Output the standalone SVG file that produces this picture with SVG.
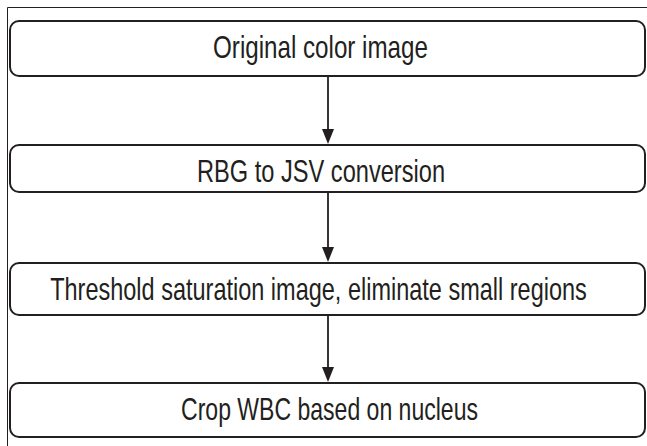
<svg xmlns="http://www.w3.org/2000/svg" width="647" height="446" viewBox="0 0 647 446">
<style>
.box{fill:#fff;stroke:#231f20;stroke-width:2}
.lbl{font-family:"Liberation Sans",Arial,sans-serif;font-size:31px;fill:#231f20;text-anchor:middle}
.edge{stroke:#231f20;stroke-width:1.8;fill:none}
.head{fill:#231f20}
</style>
<rect x="0" y="0" width="647" height="446" fill="#fff"/>
<path d="M7.5 446 V7.5 H647" fill="none" stroke="#231f20" stroke-width="1"/>
<g id="n1"><rect class="box" x="10" y="21" width="635" height="55" rx="9"/><text class="lbl" transform="translate(320.5 58) scale(0.78 1)">Original color image</text></g>
<g id="n2"><rect class="box" x="10" y="145" width="635" height="47" rx="9"/><text class="lbl" transform="translate(321 182) scale(0.762 1)">RBG to JSV conversion</text></g>
<g id="n3"><rect class="box" x="10" y="263" width="635" height="52" rx="9"/><text class="lbl" transform="translate(318.5 300) scale(0.758 1)">Threshold saturation image, eliminate small regions</text></g>
<g id="n4"><rect class="box" x="10" y="383" width="635" height="54" rx="9"/><text class="lbl" transform="translate(329.5 420) scale(0.743 1)">Crop WBC based on nucleus</text></g>
<g id="edges">
<line class="edge" x1="328" y1="77" x2="328" y2="130"/>
<polygon class="head" points="322,129 334,129 328,144"/>
<line class="edge" x1="328" y1="193" x2="328" y2="248"/>
<polygon class="head" points="322,247 334,247 328,262"/>
<line class="edge" x1="328" y1="316" x2="328" y2="368"/>
<polygon class="head" points="322,367 334,367 328,382"/>
</g>
</svg>
